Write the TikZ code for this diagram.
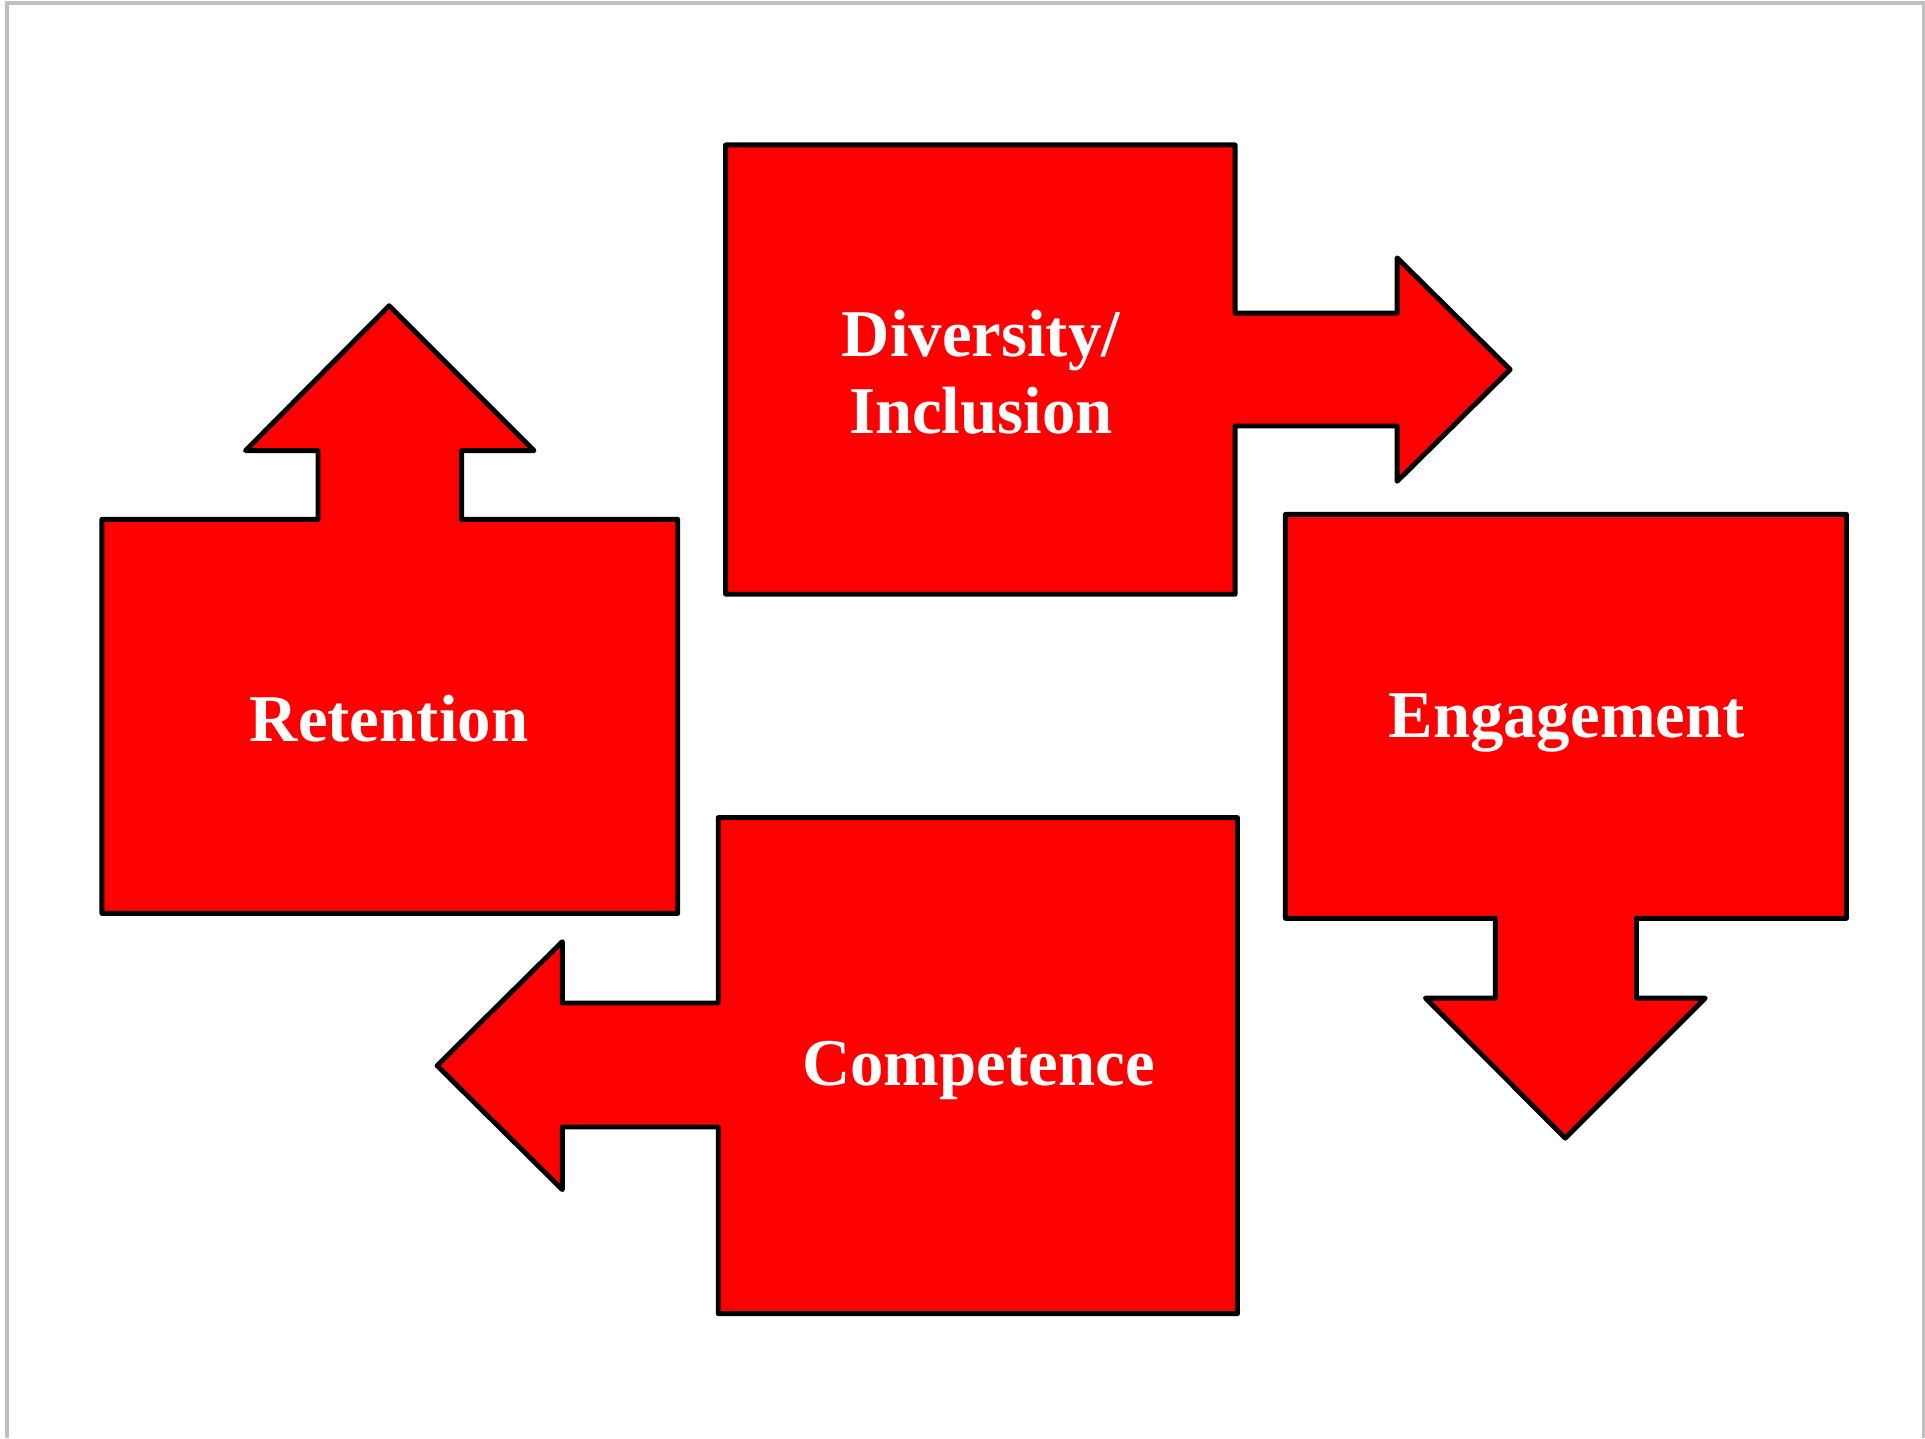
\documentclass[tikz,border=0pt]{standalone}
\usepackage{fontspec}
\setmainfont{Liberation Serif}
\usetikzlibrary{calc}
\definecolor{boxred}{RGB}{255,0,0}
\definecolor{framegray}{RGB}{191,191,191}
\tikzset{
	arrowbox/.style={draw=black, fill=boxred, line width=1.4pt, line join=round},
	boxlabel/.style={text=white, font=\bfseries\fontsize{19}{21.8}\selectfont, align=center, inner sep=0pt}
}

\begin{document}
\begin{tikzpicture}[x=0.01cm, y=-0.01cm]
		%%%%% START %%%%%
		\useasboundingbox (0, 0) rectangle (1925, 1438);
		\draw[framegray, line width=1.1pt] (7, 1438) -- (7, 3) -- (1924, 3) -- (1924, 1438);
		
		% top box, arrow to the right
		\draw[arrowbox] (725.6, 144.9) -- (1235.1, 144.9) -- (1235.1, 313.1) -- (1397.1, 313.1) -- (1397.1, 257.8) -- (1510.1, 369.5) -- (1397.1, 481.3) -- (1397.1, 426.0) -- (1235.1, 426.0) -- (1235.1, 594.2) -- (725.6, 594.2) -- cycle;
		\node[boxlabel] (diversity) at (981, 372) {Diversity/\\Inclusion};
		
		% left box, arrow up
		\draw[arrowbox] (101.9, 519.3) -- (318.0, 519.3) -- (318.0, 450.6) -- (245.5, 450.6) -- (389.2, 305.7) -- (534.0, 450.6) -- (461.6, 450.6) -- (461.6, 519.3) -- (677.7, 519.3) -- (677.7, 913.4) -- (101.9, 913.4) -- cycle;
		\node[boxlabel] (retention) at (389, 719) {Retention};
		
		% right box, arrow down
		\draw[arrowbox] (1285.4, 514.4) -- (1846.5, 514.4) -- (1846.5, 918.3) -- (1636.5, 918.3) -- (1636.5, 998.1) -- (1705.3, 998.1) -- (1565.3, 1138.1) -- (1425.4, 998.1) -- (1495.3, 998.1) -- (1495.3, 918.3) -- (1285.4, 918.3) -- cycle;
		\node[boxlabel] (engagement) at (1566.6, 723) {Engagement};
		
		% bottom box, arrow to the left
		\draw[arrowbox] (718.2, 817.6) -- (1237.5, 817.6) -- (1237.5, 1313.6) -- (718.2, 1313.6) -- (718.2, 1127.0) -- (562.3, 1127.0) -- (562.3, 1189.6) -- (437.1, 1065.6) -- (562.3, 941.6) -- (562.3, 1003.0) -- (718.2, 1003.0) -- cycle;
		\node[boxlabel] (competence) at (978.5, 1070.6) {Competence};
		%%%%% END %%%%%
\end{tikzpicture}
\end{document}
